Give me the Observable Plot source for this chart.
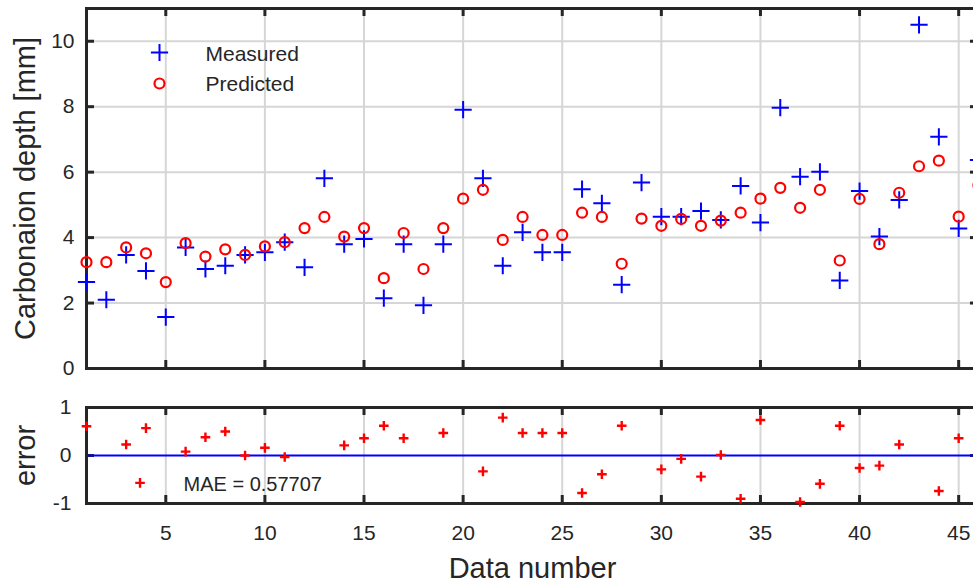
<!DOCTYPE html>
<html><head><meta charset="utf-8">
<script src="https://cdn.jsdelivr.net/npm/d3@7"></script>
<script src="https://cdn.jsdelivr.net/npm/@observablehq/plot@0.6"></script>
<style>
html,body{margin:0;padding:0;background:#fff;overflow:hidden;width:973px;height:583px}
#wrap{position:relative;width:990px;height:583px}
#topPanel{position:absolute;left:0;top:0}
#botPanel{position:absolute;left:0;top:380px}
</style></head><body><div id="wrap"><div id="topPanel"></div><div id="botPanel"></div></div>
<script>
// ---- data ----
const dataNumber = [1,2,3,4,5,6,7,8,9,10,11,12,13,14,15,16,17,18,19,20,21,22,23,24,25,26,27,28,29,30,31,32,33,34,35,36,37,38,39,40,41,42,43,44,45,46];
const measured = [2.64,2.10,3.47,2.98,1.57,3.70,3.04,3.14,3.47,3.55,3.86,3.09,5.81,3.80,3.96,2.15,3.80,1.93,3.80,7.91,5.81,3.14,4.16,3.55,3.55,5.48,5.05,2.56,5.68,4.64,4.64,4.81,4.54,5.58,4.46,7.97,5.86,6.01,2.69,5.42,4.03,5.15,10.50,7.08,4.28,6.37];
const predicted = [3.25,3.25,3.70,3.52,2.64,3.83,3.42,3.64,3.47,3.73,3.86,4.29,4.63,4.03,4.29,2.76,4.14,3.04,4.29,5.19,5.46,3.93,4.63,4.08,4.08,4.76,4.63,3.20,4.58,4.36,4.57,4.36,4.52,4.76,5.19,5.52,4.91,5.46,3.30,5.18,3.80,5.37,6.18,6.35,4.64,5.60];
const errX = [1,3,3.7,4,6,7,8,9,10,11,14,15,16,17,19,21,22,23,24,25,26,27,28,30,31,32,33,34,35,37,38,39,40,41,42,44,45];
const errY = [0.61,0.23,-0.57,0.57,0.08,0.38,0.50,0.0,0.16,-0.03,0.21,0.36,0.62,0.36,0.47,-0.33,0.79,0.47,0.47,0.47,-0.78,-0.39,0.62,-0.29,-0.07,-0.44,0.01,-0.90,0.74,-0.97,-0.59,0.62,-0.26,-0.21,0.23,-0.74,0.36];
const xTicks = [5,10,15,20,25,30,35,40,45];
const yTicksTop = [0,2,4,6,8,10];
const yTicksBot = [-1,0,1];
const seriesNames = ["Measured","Predicted"];
const maeText = "MAE = 0.57707";
const yLabelTop = "Carbonaion depth [mm]";
const yLabelBot = "error";
const xLabel = "Data number";

// ---- tables ----
const rows = dataNumber.map((n,i)=>({n, m: measured[i], p: predicted[i]}));
const errRows = errX.map((x,i)=>({x, e: errY[i]}));

const FONT = "'Liberation Sans', Arial, Helvetica, sans-serif";
const INK = "#262626";
const GRID = "#d6d6d6";
const W = 990, ML = 86, MR = 12;
const frameW = W - ML - MR;
const TICK = 8;
const PLUS_R = 5.6, CIRC_R = 5.0, ERR_R = 3.2;
const TICK_FS = 21, LAB_FS = 29, LEG_FS = 21;

// top panel
const TH = 380, TMT = 8, TMB = 12;
const topFrameH = TH - TMT - TMB;
const topPlot = Plot.plot({
  width: W, height: TH,
  marginLeft: ML, marginRight: MR, marginTop: TMT, marginBottom: TMB,
  x: {domain: [1, 46], label: null, axis: null},
  y: {domain: [0, 11], label: null},
  style: {fontFamily: FONT, fontSize: "20px", color: INK, background: "#fff", overflow: "visible"},
  marks: [
    Plot.gridX(xTicks, {stroke: GRID, strokeOpacity: 1, strokeWidth: 2}),
    Plot.gridY(yTicksTop, {stroke: GRID, strokeOpacity: 1, strokeWidth: 2}),
    Plot.tickX(xTicks, {x: d=>d, insetTop: topFrameH - TICK, stroke: INK, strokeWidth: 3}),
    Plot.tickX(xTicks, {x: d=>d, insetBottom: topFrameH - TICK, stroke: INK, strokeWidth: 3}),
    Plot.tickY(yTicksTop, {y: d=>d, insetRight: frameW - TICK, stroke: INK, strokeWidth: 3}),
    Plot.tickY(yTicksTop, {y: d=>d, insetLeft: frameW - TICK, stroke: INK, strokeWidth: 3}),
    Plot.axisY(yTicksTop, {tickSize: 0, tickPadding: 12, tickFormat: d=>String(d), fontSize: TICK_FS, label: null}),
    Plot.frame({stroke: INK, strokeWidth: 3}),
    Plot.dot(rows, {x: "n", y: "m", symbol: "plus", r: PLUS_R, stroke: "#0000ff", strokeWidth: 2}),
    Plot.dot(rows, {x: "n", y: "p", symbol: "circle", r: CIRC_R, stroke: "#ff0000", strokeWidth: 2.2, fill: "none"}),
    // legend
    Plot.dot([seriesNames[0]], {frameAnchor: "top-left", dx: 73, dy: 44, symbol: "plus", r: PLUS_R, stroke: "#0000ff", strokeWidth: 2}),
    Plot.dot([seriesNames[1]], {frameAnchor: "top-left", dx: 73, dy: 75, symbol: "circle", r: CIRC_R, stroke: "#ff0000", strokeWidth: 2.2, fill: "none"}),
    Plot.text([seriesNames[0]], {text: d=>d, frameAnchor: "top-left", dx: 119, dy: 45.5, textAnchor: "start", lineAnchor: "middle", fontSize: LEG_FS, fill: INK}),
    Plot.text([seriesNames[1]], {text: d=>d, frameAnchor: "top-left", dx: 119, dy: 75.5, textAnchor: "start", lineAnchor: "middle", fontSize: LEG_FS, fill: INK}),
    Plot.text([yLabelTop], {text: d=>d, frameAnchor: "left", dx: -61, rotate: -90, textAnchor: "middle", lineAnchor: "middle", fontSize: LAB_FS, fill: INK})
  ]
});
document.getElementById("topPanel").append(topPlot);

// bottom panel
const BH = 203, BMT = 27, BMB = 80;
const botFrameH = BH - BMT - BMB;
const botPlot = Plot.plot({
  width: W, height: BH,
  marginLeft: ML, marginRight: MR, marginTop: BMT, marginBottom: BMB,
  x: {domain: [1, 46], label: null},
  y: {domain: [-1, 1], label: null},
  style: {fontFamily: FONT, fontSize: "20px", color: INK, background: "#fff", overflow: "visible"},
  marks: [
    Plot.gridX(xTicks, {stroke: GRID, strokeOpacity: 1, strokeWidth: 2}),
    Plot.tickX(xTicks, {x: d=>d, insetTop: botFrameH - TICK, stroke: INK, strokeWidth: 3}),
    Plot.tickX(xTicks, {x: d=>d, insetBottom: botFrameH - TICK, stroke: INK, strokeWidth: 3}),
    Plot.tickY(yTicksBot, {y: d=>d, insetRight: frameW - TICK, stroke: INK, strokeWidth: 3}),
    Plot.tickY(yTicksBot, {y: d=>d, insetLeft: frameW - TICK, stroke: INK, strokeWidth: 3}),
    Plot.ruleY([0], {stroke: "#0000ff", strokeWidth: 2}),
    Plot.axisX(xTicks, {tickSize: 0, tickPadding: 22, fontSize: TICK_FS, label: null}),
    Plot.axisY(yTicksBot, {tickSize: 0, tickPadding: 15, tickFormat: d=>String(d), fontSize: TICK_FS, label: null}),
    Plot.frame({stroke: INK, strokeWidth: 3}),
    Plot.dot(errRows, {x: "x", y: "e", symbol: "plus", r: ERR_R, stroke: "#ff0000", strokeWidth: 2.4}),
    Plot.text([maeText], {text: d=>d, frameAnchor: "bottom-left", dx: 97, dy: -19, textAnchor: "start", lineAnchor: "middle", fontSize: 20, fill: INK}),
    Plot.text([yLabelBot], {text: d=>d, frameAnchor: "left", dx: -61, rotate: -90, textAnchor: "middle", lineAnchor: "middle", fontSize: LAB_FS, fill: INK}),
    Plot.text([xLabel], {text: d=>d, frameAnchor: "bottom", dy: 65, textAnchor: "middle", lineAnchor: "middle", fontSize: LAB_FS, fill: INK})
  ]
});
document.getElementById("botPanel").append(botPlot);
</script>
</body></html>
